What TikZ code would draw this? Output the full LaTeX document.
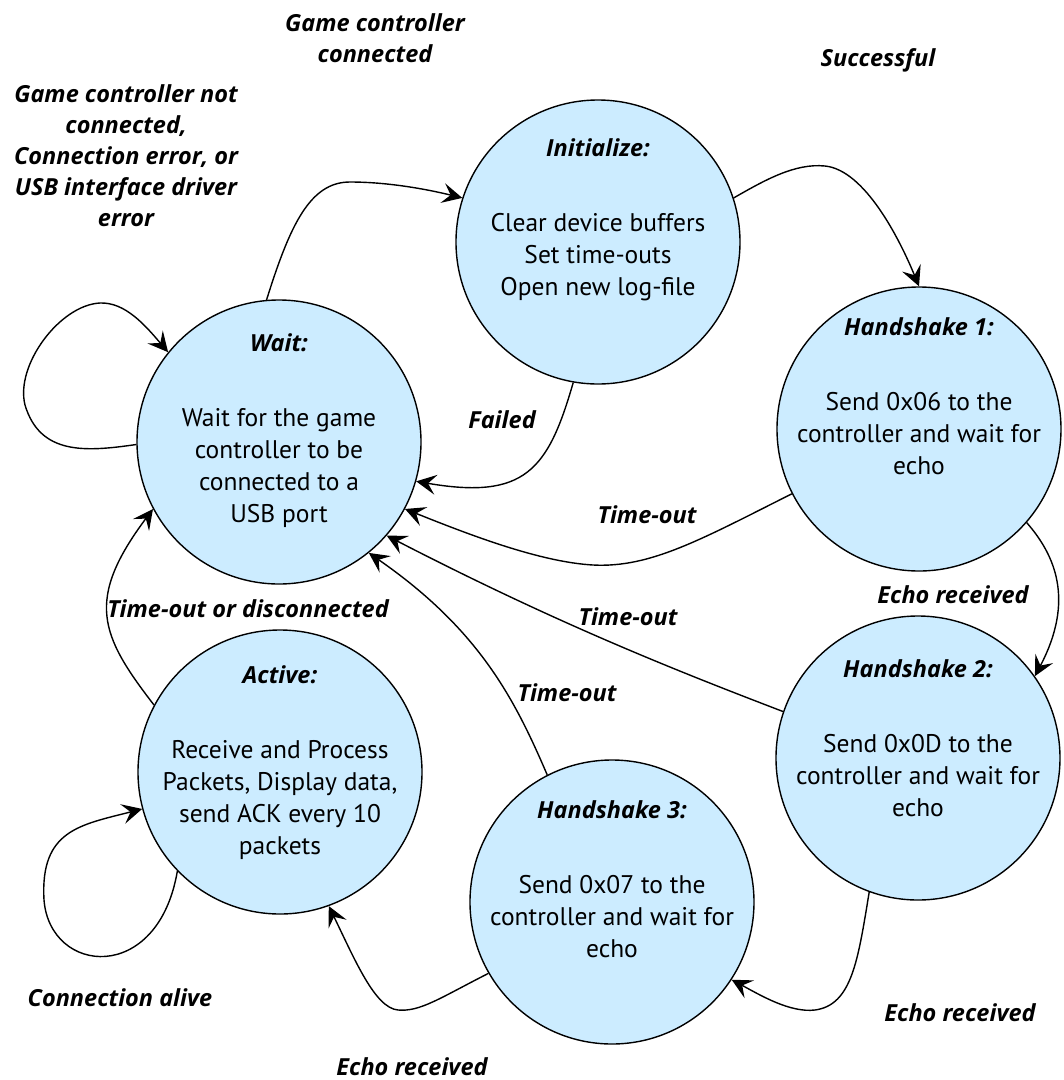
\documentclass[tikz,border=0pt]{standalone}
\usepackage{fontspec}
\setmainfont{PT Sans}
\newfontfamily\labfont{Open Sans}
\usetikzlibrary{arrows.meta,calc}
\definecolor{statefill}{RGB}{204,236,255}
\newcommand{\stitle}[1]{{\labfont\bfseries\itshape\fontsize{23.5}{32}\selectfont #1}}
\begin{document}
\begin{tikzpicture}[x=1pt,y=-1pt,
  state/.style={circle,draw=black,line width=1.4pt,fill=statefill,minimum size=284pt,inner sep=0pt},
  body/.style={align=center,font=\fontsize{25.5}{32}\selectfont,inner sep=0pt},
  lab/.style={align=center,font=\labfont\bfseries\itshape\fontsize{23.5}{31}\selectfont,inner sep=0pt},
  trans/.style={line width=1.4pt,-{Stealth[length=20pt,width=20pt,inset=8pt]}}
]
\useasboundingbox (0,0) rectangle (1064,1080);

% states
\node[state] (wait) at (279,442) {};
\node[state] (init) at (598,242) {};
\node[state] (hs1)  at (919,429) {};
\node[state] (hs2)  at (918,758) {};
\node[state] (hs3)  at (612,902) {};
\node[state] (act)  at (280,772) {};

% state texts
\node[body] (waittxt) at ($(wait.center)+(0,-11)$) {\stitle{Wait:}\\[43pt]Wait for the game\\controller to be\\connected to a\\USB port};
\node[body] (inittxt) at ($(init.center)+(0,-22)$) {\stitle{Initialize:}\\[43pt]Clear device buffers\\Set time-outs\\Open new log-file};
\node[body] (hs1txt) at ($(hs1.center)+(0,-33)$) {\stitle{Handshake 1:}\\[43pt]Send 0x06 to the\\controller and wait for\\echo};
\node[body] (hs2txt) at ($(hs2.center)+(0,-20)$) {\stitle{Handshake 2:}\\[43pt]Send 0x0D to the\\controller and wait for\\echo};
\node[body] (hs3txt) at ($(hs3.center)+(0,-23)$) {\stitle{Handshake 3:}\\[43pt]Send 0x07 to the\\controller and wait for\\echo};
\node[body] (acttxt) at ($(act.center)+(0,-9)$) {\stitle{Active:}\\[43pt]Receive and Process\\Packets, Display data,\\send ACK every 10\\packets};

% transitions
\draw[trans] (wait.181) .. controls (85,452) and (40,455) .. (25,405)
  .. controls (15,365) and (60,305) .. (100,303)
  .. controls (125,302) and (145,325) .. (wait.141);
\draw[trans] (wait.95) .. controls (290,225) and (310,182) .. (350,182)
  .. controls (390,182) and (430,190) .. (init.162.5);
\draw[trans] (init.18) .. controls (765,180) and (795,163) .. (825,166)
  .. controls (865,170) and (900,240) .. (hs1.90);
\draw[trans] (init.260) .. controls (548,470) and (525,500) .. (wait.-16);
\draw[trans] (hs1.207) .. controls (700,540) and (650,568) .. (593,565)
  .. controls (540,562) and (470,535) .. (wait.-28.7);
\draw[trans] (hs1.-41) .. controls (1055,555) and (1075,600) .. (hs2.35);
\draw[trans] (hs2.161) .. controls (680,672) and (560,625) .. (wait.-41);
\draw[trans] (hs2.-110) .. controls (858,960) and (852,1005) .. (815,1010)
  .. controls (790,1013) and (760,995) .. (hs3.-33);
\draw[trans] (hs3.117) .. controls (515,700) and (480,630) .. (wait.-51);
\draw[trans] (hs3.210) .. controls (440,998) and (420,1012) .. (398,1010)
  .. controls (375,1008) and (355,960) .. (act.-70);
\draw[trans] (act.152) .. controls (100,635) and (85,600) .. (wait.208);
\draw[trans] (act.224) .. controls (158,985) and (50,975) .. (44,900)
  .. controls (40,830) and (80,825) .. (act.195);

% transition labels
\node[lab] (lnotconn) at (126,156) {Game controller not\\connected,\\Connection error, or\\USB interface driver\\error};
\node[lab] (lconn) at (375,38) {Game controller\\connected};
\node[lab] (lsucc) at (878,60) {Successful};
\node[lab] (lfail) at (502,420) {Failed};
\node[lab] (lto1) at (647,515) {Time-out};
\node[lab] (lto2) at (628,617) {Time-out};
\node[lab] (lto3) at (567,693) {Time-out};
\node[lab] (ltodis) at (248,609) {Time-out or disconnected};
\node[lab] (lalive) at (120,998) {Connection alive};
\node[lab] (lecho1) at (953,595) {Echo received};
\node[lab] (lecho2) at (960,1013) {Echo received};
\node[lab] (lecho3) at (412,1067) {Echo received};
\end{tikzpicture}
\end{document}
